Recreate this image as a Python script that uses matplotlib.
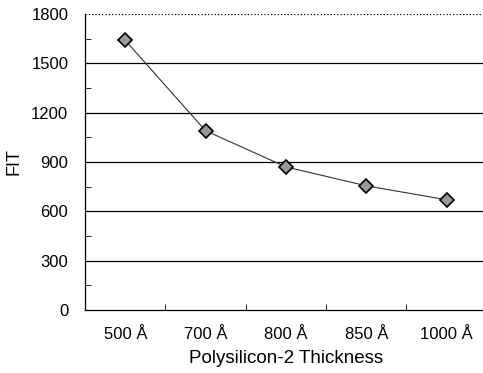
import matplotlib.pyplot as plt
import numpy as np

plt.rcParams['font.family'] = ['Liberation Sans', 'DejaVu Sans']

thickness = ['500 Å', '700 Å', '800 Å', '850 Å', '1000 Å']
fit = [1640, 1090, 870, 755, 670]

fig = plt.figure(figsize=(4.83, 3.73), dpi=100)
ax = fig.add_axes([0.176, 0.169, 0.832, 0.7935])

x = np.arange(len(thickness))
ax.plot(x, fit, '-', color='#333333', lw=0.8, marker='D', markersize=7.5,
        markerfacecolor='#999999', markeredgecolor='black', markeredgewidth=1.2, zorder=3)

ax.set_xlim(-0.5, len(thickness) - 0.5)
ax.set_ylim(0, 1800)
ax.set_yticks(np.arange(0, 1801, 300))
ax.set_yticks(np.arange(150, 1800, 300), minor=True)
ax.set_xticks(x)
ax.set_xticklabels(thickness)
ax.set_xticks(np.arange(0.5, len(thickness) - 1, 1), minor=True)

for v in range(300, 1800, 300):
    ax.axhline(v, color='black', lw=0.9, zorder=1)
ax.axhline(1800, color='black', lw=0.9, ls=':', zorder=1)

ax.spines['top'].set_visible(False)
ax.spines['right'].set_visible(False)
ax.spines['left'].set_linewidth(0.9)
ax.spines['bottom'].set_linewidth(0.9)

ax.tick_params(axis='y', which='major', length=0, labelsize=12, pad=12)
ax.tick_params(axis='y', which='minor', direction='in', length=4)
ax.tick_params(axis='x', which='major', length=0, labelsize=12, pad=12)
ax.tick_params(axis='x', which='minor', direction='in', length=4)

ax.set_xlabel('Polysilicon-2 Thickness', fontsize=13.5, labelpad=6)
ax.set_ylabel('FIT', fontsize=13, labelpad=6)

fig.savefig('out.png', dpi=100)
